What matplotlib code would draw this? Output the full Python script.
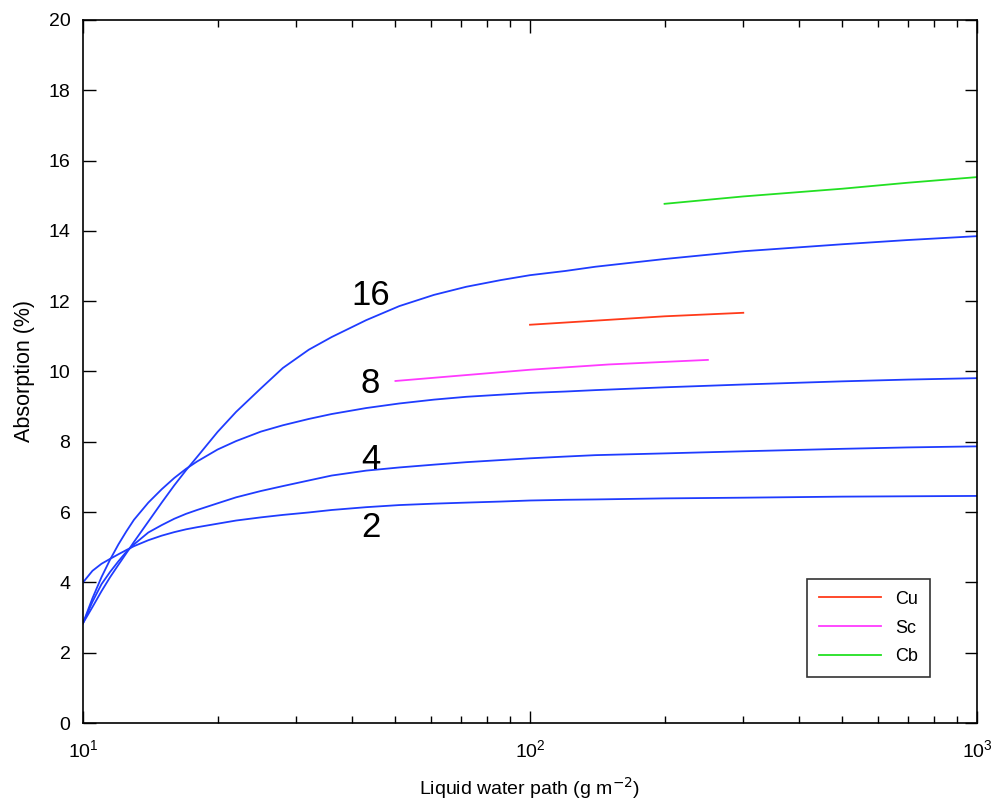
import matplotlib
matplotlib.use("Agg")
import matplotlib.pyplot as plt
import matplotlib.ticker as mtick

plt.rcParams['font.family'] = ['Liberation Sans', 'DejaVu Sans']

# liquid water path (g m-2)
lwp = [10, 10.5, 11, 11.5, 12, 12.5, 13, 14, 15, 16, 17, 18, 20, 22, 25, 28, 32, 36,
       43, 51, 61, 72, 86, 100, 120, 140, 200, 300, 500, 700, 1000]

# absorption (%) for the four curves, labelled 2, 4, 8, 16
abs_2 = [4.0, 4.33, 4.53, 4.67, 4.8, 4.92, 5.03, 5.2, 5.33, 5.43, 5.51, 5.57, 5.67, 5.76,
         5.85, 5.92, 5.99, 6.06, 6.14, 6.2, 6.24, 6.27, 6.3, 6.33, 6.35, 6.36, 6.39, 6.41,
         6.44, 6.45, 6.46]
abs_4 = [2.84, 3.45, 3.95, 4.3, 4.6, 4.87, 5.08, 5.42, 5.63, 5.81, 5.95, 6.06, 6.25, 6.42,
         6.6, 6.74, 6.9, 7.04, 7.18, 7.27, 7.35, 7.42, 7.48, 7.53, 7.58, 7.62, 7.67, 7.73,
         7.8, 7.84, 7.87]
abs_8 = [2.84, 3.55, 4.15, 4.65, 5.08, 5.45, 5.78, 6.27, 6.65, 6.97, 7.23, 7.44, 7.78, 8.02,
         8.29, 8.47, 8.65, 8.79, 8.96, 9.09, 9.2, 9.28, 9.34, 9.39, 9.43, 9.47, 9.55, 9.63,
         9.72, 9.77, 9.81]
abs_16 = [2.84, 3.3, 3.75, 4.15, 4.5, 4.83, 5.15, 5.73, 6.27, 6.76, 7.19, 7.57, 8.28, 8.85,
          9.52, 10.1, 10.62, 10.98, 11.46, 11.86, 12.18, 12.41, 12.6, 12.74, 12.86, 12.98,
          13.2, 13.42, 13.62, 13.74, 13.85]
curve_labels = ['2', '4', '8', '16']
label_y = [5.55, 7.5, 9.67, 12.15]

# cloud types
cu_x = [100, 150, 200, 300]
cu_y = [11.33, 11.47, 11.57, 11.67]
sc_x = [50, 100, 150, 250]
sc_y = [9.73, 10.05, 10.2, 10.33]
cb_x = [200, 300, 500, 700, 1000]
cb_y = [14.77, 14.98, 15.2, 15.37, 15.53]

fig = plt.figure(figsize=(9.94, 8.09), dpi=100)
ax = fig.add_axes([0.0835, 0.1063, 0.8994, 0.869])

blue = '#1f3cff'
for ys in [abs_2, abs_4, abs_8, abs_16]:
    ax.plot(lwp, ys, color=blue, lw=1.3)

for lab, yy in zip(curve_labels, label_y):
    ax.text(44, yy, lab, fontsize=25, ha='center', va='center')

ax.plot(cu_x, cu_y, color='#ff3a1a', lw=1.3, label='Cu')
ax.plot(sc_x, sc_y, color='#ff3aff', lw=1.3, label='Sc')
ax.plot(cb_x, cb_y, color='#22e022', lw=1.3, label='Cb')

ax.set_xscale('log')
ax.set_xlim(10, 1000)
ax.set_ylim(0, 20)
ax.yaxis.set_major_locator(mtick.MultipleLocator(2))
ax.tick_params(which='both', direction='in', top=True, right=True, labelsize=14)
ax.tick_params(which='major', length=9, width=1)
ax.tick_params(which='minor', length=5, width=1)
ax.tick_params(axis='x', pad=12)
ax.tick_params(axis='y', pad=9)
for sp in ax.spines.values():
    sp.set_linewidth(1.2)

ax.set_xlabel('Liquid water path (g m$^{-2}$)', fontsize=14, labelpad=10)
ax.set_ylabel('Absorption (%)', fontsize=15.5, labelpad=10)

leg = ax.legend(loc='lower right', bbox_to_anchor=(0.947, 0.0654), borderaxespad=0,
                fontsize=13, frameon=True, fancybox=False, edgecolor='black',
                handlelength=3.4, borderpad=0.65, labelspacing=0.65)
leg.get_frame().set_linewidth(1.2)

fig.savefig('out.png', dpi=100)
